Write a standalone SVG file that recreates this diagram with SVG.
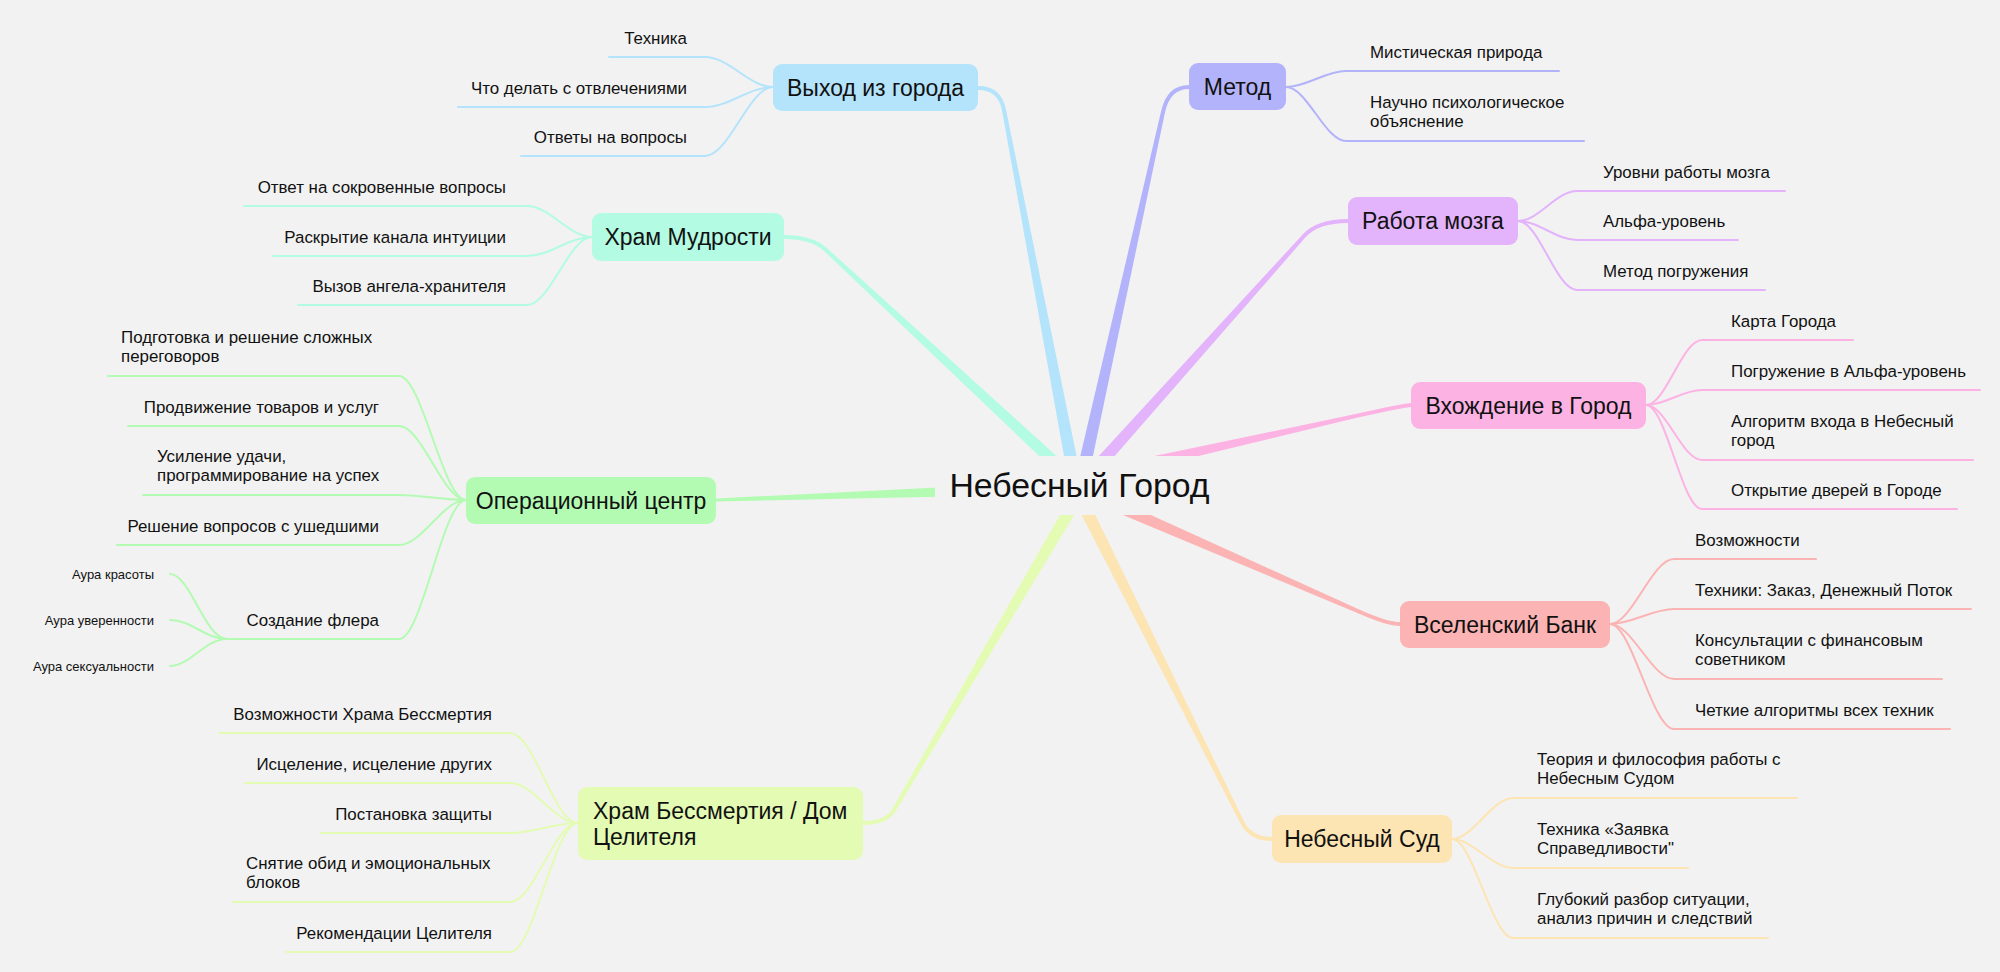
<svg xmlns="http://www.w3.org/2000/svg" width="2000" height="972" viewBox="0 0 2000 972">
<style>
.t{font-family:"Liberation Sans",Arial,sans-serif;font-size:16.9px;fill:#111}
.g{font-family:"Liberation Sans",Arial,sans-serif;font-size:13px;fill:#111}
.n{font-family:"Liberation Sans",Arial,sans-serif;font-size:23px;fill:#111}
.c{font-family:"Liberation Sans",Arial,sans-serif;font-size:33.8px;fill:#111}
.e{text-anchor:end}
.m{text-anchor:middle}
.l{fill:none;stroke-width:2;stroke-linecap:round}
.b{fill:none;stroke-width:4;stroke-linecap:round}
</style>
<rect width="2000" height="972" fill="#f2f2f2"/>
<g id="connectors">
  <!-- main branches -->
  <polygon points="1082.4,484.8 1006,109.6 1002,110.4 1069.6,487.2" fill="#b4e4fb"/>
  <path class="b" stroke="#b4e4fb" d="M1004,110 Q999.8,88 978,88"/>
  <polygon points="1086.35,487.41 1164.95,112.43 1161.05,111.57 1073.65,484.59" fill="#b3b3fb"/>
  <path class="b" stroke="#b3b3fb" d="M1163,112 Q1168.5,87 1189,87"/>
  <polygon points="1084.42,481.24 827.36,248.53 824.64,251.47 1075.58,490.76" fill="#b3fbe3"/>
  <path class="b" stroke="#b3fbe3" d="M826,250 Q812,237 784,237"/>
  <polygon points="1084.84,490.34 1305.49,237.33 1302.51,234.67 1075.16,481.66" fill="#e3b3fb"/>
  <path class="b" stroke="#e3b3fb" d="M1304,236 Q1317.4,221 1348,221"/>
  <polygon points="1081.43,484.34 1350.44,419.25 1349.56,415.35 1078.57,471.66" fill="#fcb3e4"/>
  <path class="b" stroke="#fcb3e4" d="M1350,417.3 Q1404.6,405 1412,405"/>
  <polygon points="1079.77,480.5 715.94,498.4 716.06,501.6 1080.23,493.5" fill="#b3fbb3"/>
  <polygon points="1077.4,495.96 1359.2,613.83 1360.8,610.17 1082.6,484.04" fill="#fbb3b3"/>
  <path class="b" stroke="#fbb3b3" d="M1360,612 Q1387.5,624 1400,624"/>
  <polygon points="1068.19,488.91 1240.21,822.89 1243.79,821.11 1079.81,483.09" fill="#fde4b3"/>
  <path class="b" stroke="#fde4b3" d="M1242,822 Q1250.5,839 1272,839"/>
  <polygon points="1078.39,482.71 892.27,808.99 895.73,811.01 1089.61,489.29" fill="#e4fbb3"/>
  <path class="b" stroke="#e4fbb3" d="M894,810 Q886.4,823 863,823"/>

  <!-- Выход из города children -->
  <g stroke="#b4e4fb" class="l">
    <path class="l" d="M773,87 C749,87 729,57 705,57 H609"/>
    <path class="l" d="M773,87 C749,87 729,107 705,107 H458"/>
    <path class="l" d="M773,87 C749,87 729,156 705,156 H521"/>
  </g>
  <!-- Храм Мудрости children -->
  <g stroke="#b3fbe3" class="l">
    <path class="l" d="M592,237 C569,237 550,206 527,206 H244"/>
    <path class="l" d="M592,237 C569,237 550,256 527,256 H273"/>
    <path class="l" d="M592,237 C569,237 550,305 527,305 H298"/>
  </g>
  <!-- Метод children -->
  <g stroke="#b3b3fb" class="l">
    <path class="l" d="M1286,87 C1307,87 1325,71 1346,71 H1559"/>
    <path class="l" d="M1286,87 C1307,87 1325,141 1346,141 H1584"/>
  </g>
  <!-- Работа мозга children -->
  <g stroke="#e3b3fb" class="l">
    <path class="l" d="M1518,221 C1539,221 1556,191 1577,191 H1785"/>
    <path class="l" d="M1518,221 C1539,221 1556,240 1577,240 H1738"/>
    <path class="l" d="M1518,221 C1539,221 1556,290 1577,290 H1765"/>
  </g>
  <!-- Вхождение в Город children -->
  <g stroke="#fcb3e4" class="l">
    <path class="l" d="M1646,405 C1666,405 1682,340 1702,340 H1853"/>
    <path class="l" d="M1646,405 C1666,405 1682,390 1702,390 H1980"/>
    <path class="l" d="M1646,405 C1666,405 1682,460 1702,460 H1973"/>
    <path class="l" d="M1646,405 C1666,405 1682,509 1702,509 H1957"/>
  </g>
  <!-- Вселенский Банк children -->
  <g stroke="#fbb3b3" class="l">
    <path class="l" d="M1610,624 C1632,624 1652,559 1674,559 H1816"/>
    <path class="l" d="M1610,624 C1632,624 1652,609 1674,609 H1971"/>
    <path class="l" d="M1610,624 C1632,624 1652,679 1674,679 H1942"/>
    <path class="l" d="M1610,624 C1632,624 1652,729 1674,729 H1950"/>
  </g>
  <!-- Небесный Суд children -->
  <g stroke="#fde4b3" class="l">
    <path class="l" d="M1452,839 C1473,839 1492,798 1513,798 H1797"/>
    <path class="l" d="M1452,839 C1473,839 1492,868 1513,868 H1688"/>
    <path class="l" d="M1452,839 C1473,839 1492,938 1513,938 H1768"/>
  </g>
  <!-- Операционный центр children -->
  <g stroke="#b3fbb3" class="l">
    <path class="l" d="M466,500 C443,500 422,376 399,376 H108"/>
    <path class="l" d="M466,500 C443,500 422,426 399,426 H128"/>
    <path class="l" d="M466,500 C443,500 422,495 399,495 H143"/>
    <path class="l" d="M466,500 C443,500 422,545 399,545 H117"/>
    <path class="l" d="M466,500 C443,500 422,639 399,639 H227"/>
    <path class="l" d="M227,639 C205,639 190,574 170,574"/>
    <path class="l" d="M227,639 C205,639 192,620 170,620"/>
    <path class="l" d="M227,639 C205,639 190,666 170,666"/>
  </g>
  <!-- Храм Бессмертия children -->
  <g stroke="#e4fbb3" class="l">
    <path class="l" d="M578,823 C554,823 534,733 510,733 H219"/>
    <path class="l" d="M578,823 C554,823 534,783 510,783 H245"/>
    <path class="l" d="M578,823 C554,823 534,833 510,833 H321"/>
    <path class="l" d="M578,823 C554,823 534,902 510,902 H233"/>
    <path class="l" d="M578,823 C554,823 534,952 510,952 H286"/>
  </g>
</g>

<g id="center">
  <rect x="935" y="456" width="290" height="59" fill="#f2f2f2"/>
  <text class="c m" x="1079.5" y="496.5">Небесный Город</text>
</g>

<g id="vyhod">
  <rect x="773" y="64" width="205" height="47" rx="9" fill="#b4e4fb"/>
  <text class="n m" x="875.5" y="95.5">Выход из города</text>
  <text class="t e" x="687" y="43.5">Техника</text>
  <text class="t e" x="687" y="93.5">Что делать с отвлечениями</text>
  <text class="t e" x="687" y="142.5">Ответы на вопросы</text>
</g>

<g id="hram-mudrosti">
  <rect x="592" y="213" width="192" height="48" rx="9" fill="#b3fbe3"/>
  <text class="n m" x="688" y="245">Храм Мудрости</text>
  <text class="t e" x="506" y="192.5">Ответ на сокровенные вопросы</text>
  <text class="t e" x="506" y="242.5">Раскрытие канала интуиции</text>
  <text class="t e" x="506" y="291.5">Вызов ангела-хранителя</text>
</g>

<g id="metod">
  <rect x="1189" y="63" width="97" height="47" rx="9" fill="#b3b3fb"/>
  <text class="n m" x="1237.5" y="94.5">Метод</text>
  <text class="t" x="1370" y="57.5">Мистическая природа</text>
  <text class="t" x="1370" y="107.5">Научно психологическое</text>
  <text class="t" x="1370" y="127">объяснение</text>
</g>

<g id="rabota-mozga">
  <rect x="1348" y="197" width="170" height="48" rx="9" fill="#e3b3fb"/>
  <text class="n m" x="1433" y="229">Работа мозга</text>
  <text class="t" x="1603" y="177.5">Уровни работы мозга</text>
  <text class="t" x="1603" y="226.5">Альфа-уровень</text>
  <text class="t" x="1603" y="276.5">Метод погружения</text>
</g>

<g id="vhozhdenie">
  <rect x="1411" y="382" width="235" height="47" rx="9" fill="#fcb3e4"/>
  <text class="n m" x="1528.5" y="413.5">Вхождение в Город</text>
  <text class="t" x="1731" y="326.5">Карта Города</text>
  <text class="t" x="1731" y="376.5">Погружение в Альфа-уровень</text>
  <text class="t" x="1731" y="426.5">Алгоритм входа в Небесный</text>
  <text class="t" x="1731" y="446">город</text>
  <text class="t" x="1731" y="495.5">Открытие дверей в Городе</text>
</g>

<g id="bank">
  <rect x="1400" y="601" width="210" height="47" rx="9" fill="#fbb3b3"/>
  <text class="n m" x="1505" y="632.5">Вселенский Банк</text>
  <text class="t" x="1695" y="545.5">Возможности</text>
  <text class="t" x="1695" y="595.5">Техники: Заказ, Денежный Поток</text>
  <text class="t" x="1695" y="645.5">Консультации с финансовым</text>
  <text class="t" x="1695" y="665">советником</text>
  <text class="t" x="1695" y="715.5">Четкие алгоритмы всех техник</text>
</g>

<g id="sud">
  <rect x="1272" y="815" width="180" height="48" rx="9" fill="#fde4b3"/>
  <text class="n m" x="1362" y="847">Небесный Суд</text>
  <text class="t" x="1537" y="764.5">Теория и философия работы с</text>
  <text class="t" x="1537" y="784">Небесным Судом</text>
  <text class="t" x="1537" y="834.5">Техника «Заявка</text>
  <text class="t" x="1537" y="854">Справедливости"</text>
  <text class="t" x="1537" y="904.5">Глубокий разбор ситуации,</text>
  <text class="t" x="1537" y="924">анализ причин и следствий</text>
</g>

<g id="opcenter">
  <rect x="466" y="477" width="250" height="47" rx="9" fill="#b3fbb3"/>
  <text class="n m" x="591" y="508.5">Операционный центр</text>
  <text class="t" x="121" y="342.5">Подготовка и решение сложных</text>
  <text class="t" x="121" y="362">переговоров</text>
  <text class="t e" x="379" y="412.5">Продвижение товаров и услуг</text>
  <text class="t" x="157" y="461.5">Усиление удачи,</text>
  <text class="t" x="157" y="481">программирование на успех</text>
  <text class="t e" x="379" y="531.5">Решение вопросов с ушедшими</text>
  <text class="t e" x="379" y="625.5">Создание флера</text>
  <text class="g e" x="154" y="578.5">Аура красоты</text>
  <text class="g e" x="154" y="624.5">Аура уверенности</text>
  <text class="g e" x="154" y="670.5">Аура сексуальности</text>
</g>

<g id="hram-bessmertiya">
  <rect x="578" y="787" width="285" height="73" rx="9" fill="#e4fbb3"/>
  <text class="n" x="593" y="818.5">Храм Бессмертия / Дом</text>
  <text class="n" x="593" y="844.5">Целителя</text>
  <text class="t e" x="492" y="719.5">Возможности Храма Бессмертия</text>
  <text class="t e" x="492" y="769.5">Исцеление, исцеление других</text>
  <text class="t e" x="492" y="819.5">Постановка защиты</text>
  <text class="t" x="246" y="868.5">Снятие обид и эмоциональных</text>
  <text class="t" x="246" y="888">блоков</text>
  <text class="t e" x="492" y="938.5">Рекомендации Целителя</text>
</g>
</svg>
